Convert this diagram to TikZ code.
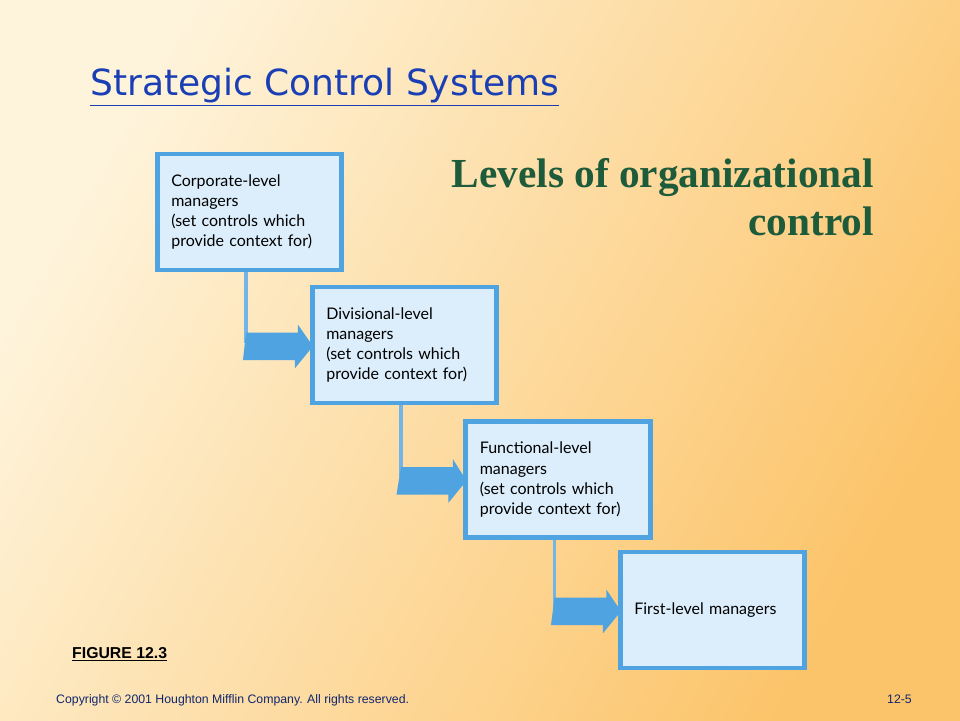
\documentclass[tikz,border=0pt]{standalone}
\usepackage{fontspec}
\setmainfont{Liberation Serif}
\setsansfont{DejaVu Sans}
\newfontfamily\boxfont{Lato}
\newfontfamily\smallfont{Liberation Sans}
\usetikzlibrary{positioning,calc}
\definecolor{bgorange}{HTML}{FCC46A}
\definecolor{bgcream}{HTML}{FEF4DC}
\definecolor{boxblue}{HTML}{4FA3E0}
\definecolor{boxfill}{HTML}{DCEEFB}
\definecolor{titleblue}{HTML}{1A3FB5}
\definecolor{subgreen}{HTML}{1E5B3A}
\tikzset{
  levelbox/.style={draw=boxblue, line width=2.6pt, fill=boxfill,
    minimum width=105pt, minimum height=66pt, text width=89pt,
    align=left, inner sep=0pt, font=\boxfont\fontsize{9.1}{11.4}\selectfont},
  stepline/.style={draw=boxblue!80, line width=2pt},
  stepfill/.style={fill=boxblue}
}
% vertical drop out of one box, then a block arrow into the next
\newcommand{\steparrow}[2]{
  \coordinate (#1top) at ($(#1.south west)+(91,0)$);
  \coordinate (#1bend) at (#1top |- {$(#2.north)+(0,48)$});
  \draw[stepline] (#1top) -- ($(#1bend)+(0,10)$);
  \fill[stepfill] (#1bend) -- ++(52,0) -- ++(0,-8) -- ($(#2.west |- #1bend)+(3,13.5)$)
    -- ++(-18,22) -- ++(0,-8) -- ++(-52,0) -- cycle;
}
\begin{document}
\begin{tikzpicture}[x=0.02cm,y=-0.02cm]
\shade[left color=bgcream, right color=bgorange, shading angle=60] (0,0) rectangle (960,720);
\useasboundingbox (0,0) rectangle (960,720);

\node[anchor=base west, text=titleblue, font=\sffamily\fontsize{20.5}{24}\selectfont] (title) at (84,95)
  {\underline{Strategic Control Systems}};
\node[anchor=north east, text=subgreen, align=right, font=\bfseries\fontsize{23.5}{27.5}\selectfont] (sub) at (880,152)
  {Levels of organizational\\control};

\node[levelbox] (corp) at (249.5,212) {Corporate-level\\managers\\(set controls which\\provide context for)};
\node[levelbox] (div) at (404.5,345) {Divisional-level\\managers\\(set controls which\\provide context for)};
\node[levelbox] (func) at (558,479.5) {Functional-level\\managers\\(set controls which\\provide context for)};
\node[levelbox] (first) at (712.5,610) {First-level managers};

\steparrow{corp}{div}
\steparrow{div}{func}
\steparrow{func}{first}

\node[anchor=base west, font=\smallfont\bfseries\fontsize{9}{11}\selectfont] (fig) at (66,658) {\underline{FIGURE 12.3}};
\node[anchor=base west, text=titleblue!60!black, font=\smallfont\fontsize{7}{8}\selectfont] (copy) at (50,703)
  {Copyright \textcopyright{} 2001 Houghton Mifflin Company. All rights reserved.};
\node[anchor=base east, text=titleblue!60!black, font=\smallfont\fontsize{7}{8}\selectfont] (page) at (918,703) {12-5};
\end{tikzpicture}
\end{document}
